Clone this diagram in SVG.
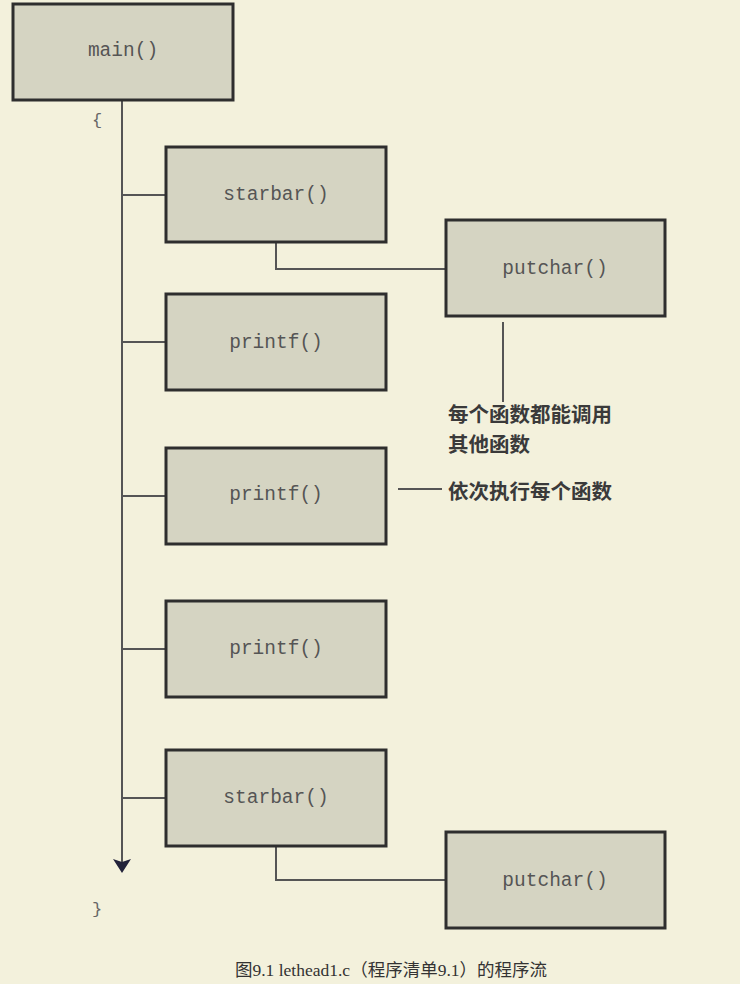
<svg xmlns="http://www.w3.org/2000/svg" width="740" height="984" viewBox="0 0 740 984">
<style>
.bg{fill:#f3f1dc}
.box{fill:#d5d4c2;stroke:#2e2e2e;stroke-width:3}
.lbl{font-family:"Liberation Mono","DejaVu Sans Mono",monospace;font-size:19.5px;fill:#555;text-anchor:middle;dominant-baseline:central}
.br{font-family:"Liberation Mono",monospace;font-size:17px;fill:#666}
.con{stroke:#555;stroke-width:2;fill:none}
.note{font-family:"Noto Sans CJK SC",sans-serif;font-size:20.5px;font-weight:bold;fill:#3a3a3a}
.cap{font-family:"Liberation Serif","Noto Sans CJK SC",serif;font-size:17.5px;fill:#333;text-anchor:middle}
</style>
<rect class="bg" x="0" y="0" width="740" height="984"/>
<g id="connectors">
<line class="con" x1="122" y1="100" x2="122" y2="862"/>
<polygon points="113,859 122,862 131,859 122,873" fill="#22223a"/>
<line class="con" x1="122" y1="195" x2="166" y2="195"/>
<line class="con" x1="122" y1="342" x2="166" y2="342"/>
<line class="con" x1="122" y1="496" x2="166" y2="496"/>
<line class="con" x1="122" y1="649" x2="166" y2="649"/>
<line class="con" x1="122" y1="798" x2="166" y2="798"/>
<polyline class="con" points="276,242 276,269 446,269"/>
<polyline class="con" points="276,846 276,880 446,880"/>
<line class="con" x1="503" y1="322" x2="503" y2="402"/>
<line class="con" x1="398" y1="489" x2="442" y2="489"/>
</g>
<g id="main"><rect class="box" x="13" y="4" width="220" height="96"/><text class="lbl" x="123" y="51">main()</text></g>
<g id="starbar1"><rect class="box" x="166" y="147" width="220" height="95"/><text class="lbl" x="276" y="195">starbar()</text></g>
<g id="putchar1"><rect class="box" x="446" y="220" width="219" height="96"/><text class="lbl" x="555" y="269">putchar()</text></g>
<g id="printf1"><rect class="box" x="166" y="294" width="220" height="96"/><text class="lbl" x="276" y="343">printf()</text></g>
<g id="printf2"><rect class="box" x="166" y="448" width="220" height="96"/><text class="lbl" x="276" y="495">printf()</text></g>
<g id="printf3"><rect class="box" x="166" y="601" width="220" height="96"/><text class="lbl" x="276" y="649">printf()</text></g>
<g id="starbar2"><rect class="box" x="166" y="750" width="220" height="96"/><text class="lbl" x="276" y="798">starbar()</text></g>
<g id="putchar2"><rect class="box" x="446" y="832" width="219" height="96"/><text class="lbl" x="555" y="881">putchar()</text></g>
<g id="braces">
<text class="br" x="92" y="125">{</text>
<text class="br" x="92" y="914">}</text>
</g>
<g id="notes">
<text class="note" x="448" y="422">每个函数都能调用</text>
<text class="note" x="448" y="452">其他函数</text>
<text class="note" x="448" y="499">依次执行每个函数</text>
</g>
<text class="cap" x="391" y="976">图9.1 lethead1.c（程序清单9.1）的程序流</text>
</svg>
